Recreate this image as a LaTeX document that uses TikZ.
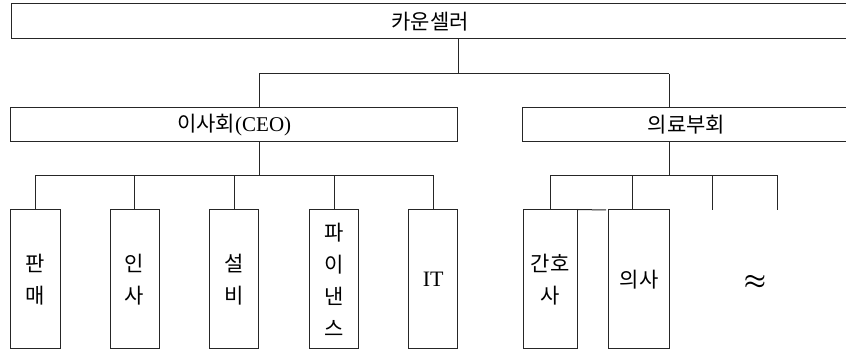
\documentclass[tikz,border=0pt]{standalone}
\usepackage{fontspec}
\setmainfont{Liberation Serif}
\newfontfamily\kr{Noto Sans CJK KR}
\begin{document}
\begin{tikzpicture}[x=1pt,y=-1pt,line width=1pt,
  box/.style={draw=black!85,rectangle,inner sep=0pt,align=center,
    font=\kr\fontsize{21}{32}\selectfont},
  wide/.style={box,minimum height=34pt},
  leaf/.style={box,minimum height=139pt},
  link/.style={draw=black!85}]
\useasboundingbox (0,0) rectangle (846,352);
% boxes
\node[wide,minimum width=838pt,minimum height=35pt] (top) at (430,21.5) {카운셀러};
\node[wide,minimum width=447pt] (ceo) at (234.2,124.6) {이사회{\rmfamily(CEO)}};
\node[wide,minimum width=328pt] (med) at (686.5,124.6) {의료부회};
\node[leaf,minimum width=49.3pt] (c1) at (35.35,279.5) {판\\매};
\node[leaf,minimum width=49.3pt] (c2) at (134.65,279.5) {인\\사};
\node[leaf,minimum width=49.3pt] (c3) at (234.15,279.5) {설\\비};
\node[leaf,minimum width=49.3pt] (c4) at (334,279.5) {파\\이\\낸\\스};
\node[leaf,minimum width=49pt] (c5) at (433.2,279.5) {{\rmfamily\fontsize{22}{32}\selectfont IT}};
\node[leaf,minimum width=54pt] (m1) at (550,279.5) {간호\\사};
\node[leaf,minimum width=60.6pt] (m2) at (639,279.5) {의사};
\node[font={\fontsize{23}{32}\selectfont\boldmath}] (ap) at (755,282) {$\approx$};
% connector junctions
\coordinate (j0) at (458,74);
\coordinate (b1) at (259.3,74);
\coordinate (b2) at (669.3,74);
\coordinate (cb) at (259.3,175.7);
\coordinate (mb) at (669.3,175.7);
\coordinate (mx) at (632.3,210);
\coordinate (e1) at (712.3,210);
\coordinate (e2) at (777.7,210);
\coordinate (kx) at (606,210);
% top level
\draw[link] (top.south -| j0) -- (j0);
\draw[link] (b1) -- (b2);
\draw[link] (b1) -- (b1 |- ceo.north);
\draw[link] (b2) -- (b2 |- med.north);
% CEO branch
\draw[link] (ceo.south -| cb) -- (cb);
\draw[link] (c1.north) -- (c1.north |- cb) -- (c5.north |- cb) -- (c5.north);
\draw[link] (c2.north) -- (c2.north |- cb);
\draw[link] (c3.north) -- (c3.north |- cb);
\draw[link] (c4.north) -- (c4.north |- cb);
% medical branch
\draw[link] (med.south -| mb) -- (mb);
\draw[link] (m1.north) -- (m1.north |- mb) -- (e2 |- mb) -- (e2);
\draw[link] (mx) -- (mx |- mb);
\draw[link] (e1) -- (e1 |- mb);
\draw[link] (m1.north east) -- (kx);
\end{tikzpicture}
\end{document}
